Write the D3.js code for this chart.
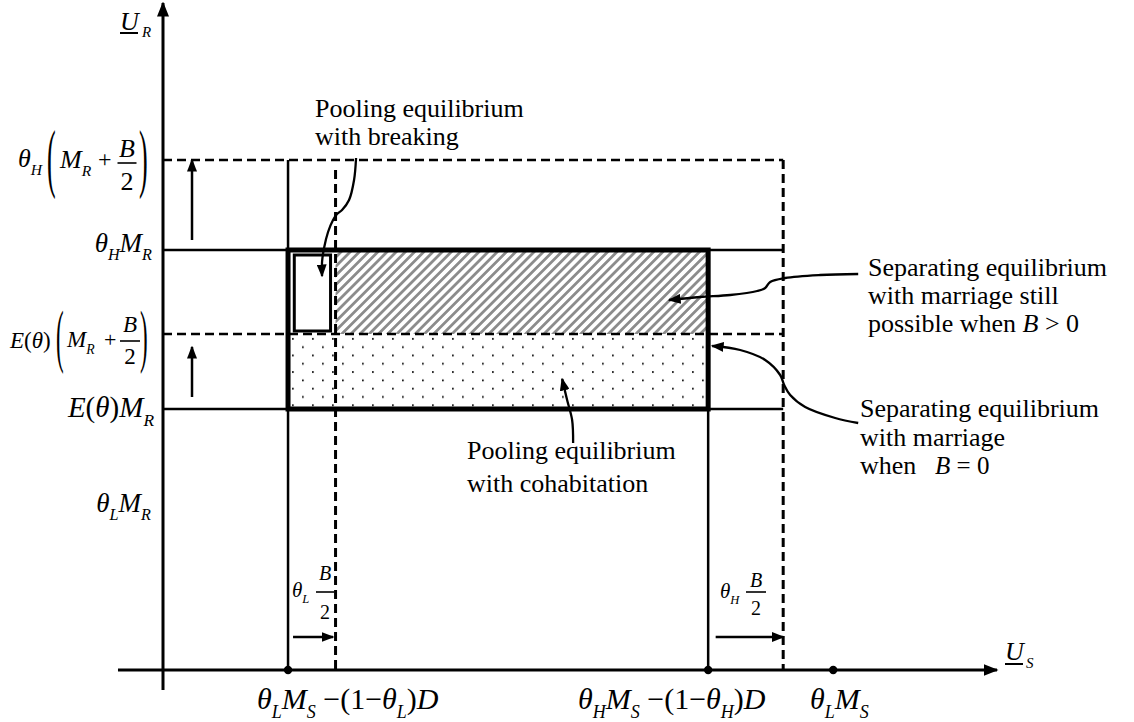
<!DOCTYPE html>
<html><head><meta charset="utf-8">
<script src="https://cdn.jsdelivr.net/npm/d3@7"></script>
<style>
body{margin:0;background:#fff}
svg{display:block}
text{font-family:"Liberation Serif","DejaVu Serif","Noto Serif","Times New Roman",Times,serif;fill:#000}
</style>
</head><body>
<svg id="c" width="1134" height="722"></svg>
<script>
// ---------- data (abstract model units) ----------
const xDomain = [0, 6.67];
const yDomain = [0, 6.67];
const xAxisStart = -0.36;
const yAxisStart = -0.2;
// x levels: θL·MS−(1−θL)D, shifted by θL·B/2, θH·MS−(1−θH)D, shifted by θH·B/2, θL·MS
const xLevelNames  = ["lowBase", "lowShift", "highBase", "highShift", "thetaLMS"];
const xLevelValues = [1.00, 1.38, 4.36, 4.96, 5.36];
// y levels: θL·MR, E(θ)·MR, E(θ)(MR+B/2), θH·MR, θH(MR+B/2)
const yLevelNames  = ["thetaLMR", "EMR", "EMRB", "thetaHMR", "thetaHMRB"];
const yLevelValues = [1.65, 2.61, 3.36, 4.20, 5.10];
// axis dots
const axisDots = [1.00, 4.36, 5.36];
// small "breaking" rectangle [x0, x1, y0, y1]
const breakRect = [1.05, 1.34, 3.39, 4.15];
// vertical shift arrows [x, yFrom, yTo]
const upArrows = [[0.232, 4.30, 5.10], [0.232, 2.73, 3.23]];
// horizontal shift arrows [y, xFrom, xTo]
const rightArrows = [[0.33, 1.04, 1.36], [0.33, 4.42, 4.96]];
// leader curves
const curveBreaking = [[1.544,5.12],[1.528,4.90],[1.488,4.70],[1.432,4.60],[1.392,4.56],[1.36,4.50],[1.32,4.38],[1.288,4.22],[1.272,4.08],[1.272,3.94]];
const curveSepB = [[5.56,3.96],[5.256,3.95],[4.976,3.92],[4.856,3.88],[4.816,3.82],[4.752,3.79],[4.536,3.75],[4.296,3.73],[4.048,3.70]];
const curveSep0 = [[5.56,2.47],[5.376,2.52],[5.136,2.63],[5.016,2.75],[4.968,2.85],[4.936,2.95],[4.816,3.10],[4.616,3.20],[4.392,3.24]];
const curveCohab = [[3.28,2.27],[3.272,2.50],[3.232,2.70],[3.192,2.91]];
// annotation texts
const noteBreaking = ["Pooling equilibrium", "with breaking"];
const noteCohab = ["Pooling equilibrium", "with cohabitation"];
const noteSepB = ["Separating equilibrium", "with marriage still"];
const noteSep0 = ["Separating equilibrium", "with marriage"];

// ---------- setup ----------
const L = Object.fromEntries(xLevelNames.map((n,i)=>[n,xLevelValues[i]]));
const Y = Object.fromEntries(yLevelNames.map((n,i)=>[n,yLevelValues[i]]));
const svg = d3.select("#c");
const x = d3.scaleLinear().domain(xDomain).range([163, 997]);
const y = d3.scaleLinear().domain(yDomain).range([670, 3]);

const defs = svg.append("defs");
function marker(id, len, wid){
  defs.append("marker").attr("id",id).attr("viewBox",`0 0 ${len} ${wid}`)
    .attr("refX",len-1.5).attr("refY",wid/2).attr("markerWidth",len).attr("markerHeight",wid)
    .attr("orient","auto").attr("markerUnits","userSpaceOnUse")
    .append("path").attr("d",`M0,0L${len},${wid/2}L0,${wid}Z`).attr("fill","#000");
}
marker("ahAxis", 15, 12);
marker("ah", 13, 10);
const hatch = defs.append("pattern").attr("id","hatch").attr("patternUnits","userSpaceOnUse")
  .attr("width",6.5).attr("height",10).attr("patternTransform","rotate(45)");
hatch.append("line").attr("x1",3.25).attr("x2",3.25).attr("y1",-1).attr("y2",11)
  .attr("stroke","#8c8c8c").attr("stroke-width",2.8);
const dots = defs.append("pattern").attr("id","dots").attr("patternUnits","userSpaceOnUse")
  .attr("width",20).attr("height",16.6).attr("x",x(L.lowBase)).attr("y",y(Y.EMRB));
dots.append("rect").attr("x",4).attr("y",4).attr("width",1.7).attr("height",1.7).attr("fill","#000");
dots.append("rect").attr("x",14).attr("y",12.3).attr("width",1.7).attr("height",1.7).attr("fill","#000");

// ---------- fills ----------
svg.append("rect").attr("x",x(L.lowShift)).attr("y",y(Y.thetaHMR))
  .attr("width",x(L.highBase)-x(L.lowShift)).attr("height",y(Y.EMRB)-y(Y.thetaHMR))
  .attr("fill","url(#hatch)");
svg.append("rect").attr("x",x(L.lowBase)).attr("y",y(Y.EMRB))
  .attr("width",x(L.highBase)-x(L.lowBase)).attr("height",y(Y.EMR)-y(Y.EMRB))
  .attr("fill","url(#dots)");

// ---------- guide lines ----------
const hLines = [
  {v:Y.EMR, dash:false, x1:L.highShift},
  {v:Y.EMRB, dash:true, x1:L.highShift},
  {v:Y.thetaHMR, dash:false, x1:L.highShift},
  {v:Y.thetaHMRB, dash:true, x1:L.highShift}
];
svg.selectAll(".hl").data(hLines).join("line")
  .attr("x1",x(0)).attr("x2",d=>x(d.x1)).attr("y1",d=>y(d.v)).attr("y2",d=>y(d.v))
  .attr("stroke","#000").attr("stroke-width",2.5).attr("stroke-dasharray",d=>d.dash?"9,5":null);
const vLines = [
  {v:L.lowBase, top:Y.thetaHMRB, dash:false},
  {v:L.lowShift, top:5.00, dash:true},
  {v:L.highBase, top:Y.thetaHMR, dash:false},
  {v:L.highShift, top:Y.thetaHMRB, dash:true}
];
svg.selectAll(".vl").data(vLines).join("line")
  .attr("x1",d=>x(d.v)).attr("x2",d=>x(d.v)).attr("y1",d=>y(d.top)).attr("y2",y(0))
  .attr("stroke","#000").attr("stroke-width",d=>d.dash?3:2.5).attr("stroke-dasharray",d=>d.dash?"9,5":null);

// thick box
svg.append("rect").attr("x",x(L.lowBase)).attr("y",y(Y.thetaHMR))
  .attr("width",x(L.highBase)-x(L.lowBase)).attr("height",y(Y.EMR)-y(Y.thetaHMR))
  .attr("fill","none").attr("stroke","#000").attr("stroke-width",5);
// small breaking rect
svg.append("rect").attr("x",x(breakRect[0])).attr("y",y(breakRect[3]))
  .attr("width",x(breakRect[1])-x(breakRect[0])).attr("height",y(breakRect[2])-y(breakRect[3]))
  .attr("fill","#fff").attr("stroke","#000").attr("stroke-width",3);

// ---------- axes ----------
svg.append("line").attr("x1",x(0)).attr("x2",x(0)).attr("y1",y(yAxisStart)).attr("y2",y(yDomain[1]))
  .attr("stroke","#000").attr("stroke-width",3).attr("marker-end","url(#ahAxis)");
svg.append("line").attr("x1",x(xAxisStart)).attr("x2",x(xDomain[1])).attr("y1",y(0)).attr("y2",y(0))
  .attr("stroke","#000").attr("stroke-width",3).attr("marker-end","url(#ahAxis)");
svg.selectAll(".dot").data(axisDots).join("circle").attr("cx",d=>x(d)).attr("cy",y(0)).attr("r",4.2).attr("fill","#000");

// ---------- shift arrows ----------
svg.selectAll(".ua").data(upArrows).join("line")
  .attr("x1",d=>x(d[0])).attr("x2",d=>x(d[0])).attr("y1",d=>y(d[1])).attr("y2",d=>y(d[2]))
  .attr("stroke","#000").attr("stroke-width",2.5).attr("marker-end","url(#ah)");
svg.selectAll(".ra").data(rightArrows).join("line")
  .attr("y1",d=>y(d[0])).attr("y2",d=>y(d[0])).attr("x1",d=>x(d[1])).attr("x2",d=>x(d[2]))
  .attr("stroke","#000").attr("stroke-width",2.5).attr("marker-end","url(#ah)");

// ---------- leader curves ----------
const lineGen = d3.line().x(d=>x(d[0])).y(d=>y(d[1])).curve(d3.curveCatmullRom.alpha(0.5));
[curveBreaking, curveSepB, curveSep0, curveCohab].forEach(c=>{
  svg.append("path").attr("d",lineGen(c)).attr("fill","none").attr("stroke","#000")
    .attr("stroke-width",2.3).attr("marker-end","url(#ah)");
});

// ---------- text helpers ----------
function math(x0, y0, parts, size, anchor){
  const t = svg.append("text").attr("x",x0).attr("y",y0).attr("font-size",size)
    .attr("text-anchor",anchor||"start");
  let off = 0;
  parts.forEach(([s,f])=>{
    f = f||"";
    const sub = f.includes("s");
    const target = sub ? size*0.3 : 0;
    const ts = t.append("tspan").text(s).attr("dy", target-off);
    off = target;
    if (f.includes("i")) ts.attr("font-style","italic");
    if (sub) ts.attr("font-size", size*0.6);
  });
  return t;
}
function bigParen(ch, x0, cy, h, size){
  const s = h/(0.853*size);
  svg.append("g").attr("transform",`translate(${x0},${cy}) scale(1,${s})`)
    .append("text").attr("x",0).attr("y",0.2495*size).attr("font-size",size).text(ch);
}
function frac(cx, top, barY, bot, w, size){
  svg.append("text").attr("x",cx).attr("y",top).attr("font-size",size).attr("font-style","italic")
    .attr("text-anchor","middle").text("B");
  svg.append("line").attr("x1",cx-w/2).attr("x2",cx+w/2).attr("y1",barY).attr("y2",barY)
    .attr("stroke","#000").attr("stroke-width",1.6);
  svg.append("text").attr("x",cx).attr("y",bot).attr("font-size",size).attr("text-anchor","middle").text("2");
}
function plain(x0, y0, s, size, italic){
  const t = svg.append("text").attr("x",x0).attr("y",y0).attr("font-size",size).text(s);
  if (italic) t.attr("font-style","italic");
  return t;
}

// ---------- axis titles ----------
plain(120, 30, "U", 26, true);
svg.append("line").attr("x1",120).attr("x2",138).attr("y1",33).attr("y2",33).attr("stroke","#000").attr("stroke-width",2);
plain(142, 37, "R", 15, true);
plain(1005, 660, "U", 26, true);
svg.append("line").attr("x1",1005).attr("x2",1023).attr("y1",664).attr("y2",664).attr("stroke","#000").attr("stroke-width",2);
plain(1026, 668, "S", 15, true);

// ---------- y labels ----------
// θH(MR + B/2)
math(18, y(Y.thetaHMRB)+7, [["θ","i"],["H","is"]], 26);
bigParen("(", 47, y(Y.thetaHMRB)+4, 65, 26);
math(60, y(Y.thetaHMRB)+8, [["M","i"],["R","is"]], 26);
plain(98, y(Y.thetaHMRB)+7, "+", 24);
frac(127, y(Y.thetaHMRB)-3, y(Y.thetaHMRB)+3, y(Y.thetaHMRB)+30, 19, 26);
bigParen(")", 139, y(Y.thetaHMRB)+4, 65, 26);
// θH MR
math(152, y(Y.thetaHMR)+2, [["θ","i"],["H","is"],["M","i"],["R","is"]], 27, "end");
// E(θ)(MR + B/2)
math(10, y(Y.EMRB)+14, [["E","i"],["(",""],["θ","i"],[")",""]], 23);
bigParen("(", 56, y(Y.EMRB)+8, 59, 23);
math(67, y(Y.EMRB)+13, [["M","i"],["R","is"]], 23);
plain(104, y(Y.EMRB)+13, "+", 22);
frac(130, y(Y.EMRB)-2, y(Y.EMRB)+7, y(Y.EMRB)+30, 20, 23);
bigParen(")", 140, y(Y.EMRB)+8, 59, 23);
// E(θ) MR
math(154, y(Y.EMR)+8, [["E","i"],["(",""],["θ","i"],[")",""],["M","i"],["R","is"]], 29, "end");
// θL MR
math(151, y(Y.thetaLMR)+7, [["θ","i"],["L","is"],["M","i"],["R","is"]], 27, "end");

// ---------- x labels ----------
math(257, 709, [["θ","i"],["L","is"],["M","i"],["S","is"],[" −(1−",""],["θ","i"],["L","is"],[")",""],["D","i"]], 30);
math(578, 709, [["θ","i"],["H","is"],["M","i"],["S","is"],[" −(1−",""],["θ","i"],["H","is"],[")",""],["D","i"]], 30);
math(810, 709, [["θ","i"],["L","is"],["M","i"],["S","is"]], 30);
// shift labels
math(292, 597, [["θ","i"],["L","is"]], 21);
frac(325, 580, 592, 619, 18, 20);
math(720, 598, [["θ","i"],["H","is"]], 21);
frac(756, 587, 592, 615, 20, 20);

// ---------- annotations ----------
noteBreaking.forEach((s,i)=>plain(315, 117+i*28, s, 26));
noteCohab.forEach((s,i)=>plain(467, 459+i*33, s, 26));
noteSepB.forEach((s,i)=>plain(868, 276+i*28, s, 26));
math(868, 332, [["possible when ",""],["B","i"],[" > 0",""]], 26);
noteSep0.forEach((s,i)=>plain(860, 417+i*28.5, s, 26));
plain(860, 474, "when", 26);
math(935, 474, [["B","i"],[" = 0",""]], 25);
</script>
</body></html>
